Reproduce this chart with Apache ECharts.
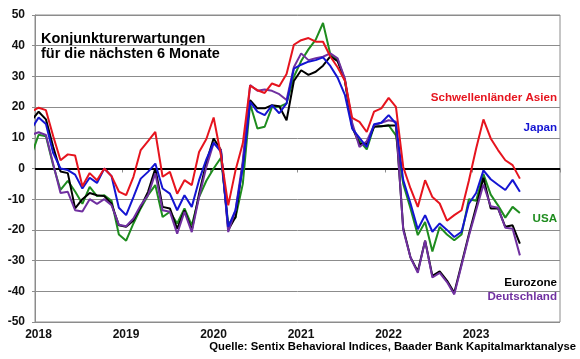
<!DOCTYPE html>
<html><head><meta charset="utf-8">
<script src="https://cdn.jsdelivr.net/npm/echarts@6/dist/echarts.min.js"></script>
<style>html,body{margin:0;padding:0;background:#fff}#c{width:580px;height:359px}</style>
</head><body><div id="c"></div>
<script>
// First value is December 2017 (clipped at the 2018 axis start), last is July 2023
const startYear = 2017, startMonth = 12;
const yearTicks = [2018, 2019, 2020, 2021, 2022, 2023, 2024];
const yTicks = [-50, -40, -30, -20, -10, 0, 10, 20, 30, 40, 50];

const asia = [18.6,
  19.8, 19.0, 10.5, 2.7, 4.6, 4.2, -5.8, -1.5, -3.8, 0.0, -2.5, -7.5,
  -8.7, -2.7, 6.0, 8.9, 11.9, -2.7, -1.1, -8.2, -3.8, -5.4, 5.4, 9.6,
  16.6, 4.3, -12.0, -0.6, 8.2, 27.0, 25.5, 24.6, 27.7, 26.8, 30.8, 40.3,
  41.8, 42.5, 41.3, 41.3, 36.5, 33.0, 28.6, 16.5, 15.2, 11.9, 18.5, 19.6,
  23.0, 20.1, 0.5, -6.5, -12.5, -3.8, -9.3, -11.4, -17.0, -15.2, -13.6, -4.0,
  6.5, 16.0, 9.8, 6.0, 2.7, 1.1, -3.3];
const japan = [12.9,
  16.6, 14.5, 5.0, 0.0, -0.5, -2.0, -6.5, -3.0, -4.7, 0.0, -2.5, -12.8,
  -15.2, -9.3, -3.3, -1.1, 1.6, -6.5, -8.2, -13.6, -8.7, -12.5, -3.8, 3.0,
  8.4, 5.4, -19.0, -13.6, 0.5, 21.7, 18.5, 17.4, 20.6, 18.0, 21.2, 32.5,
  33.8, 34.8, 35.3, 36.2, 33.4, 29.6, 24.0, 13.0, 10.0, 7.0, 14.4, 14.9,
  17.4, 14.6, -3.8, -11.4, -19.8, -15.2, -20.6, -17.9, -20.0, -22.3, -20.6, -11.5,
  -8.0, -0.6, -3.5, -5.3, -7.0, -3.7, -7.6];
const usa = [4.3,
  11.0, 10.5, 1.0, -7.0, -4.0, -7.5, -11.5, -6.0, -9.0, -8.7, -10.5, -21.5,
  -23.5, -17.9, -13.0, -8.7, -5.4, -15.8, -14.1, -17.9, -13.0, -18.5, -9.3, -4.0,
  0.0, 3.5, -18.0, -16.0, -5.0, 21.0, 13.0, 13.6, 20.0, 20.1, 21.2, 29.9,
  35.0, 38.8, 42.0, 47.4, 37.2, 35.6, 28.8, 13.6, 9.0, 6.2, 13.8, 13.8,
  14.1, 10.8, -5.0, -13.0, -21.7, -17.4, -27.0, -19.0, -21.5, -23.4, -21.5, -10.0,
  -10.5, -1.8, -8.5, -12.0, -16.0, -12.5, -14.5];
const eurozone = [15.6,
  18.5, 16.0, 7.0, -1.0, -1.5, -13.0, -10.0, -8.0, -8.7, -9.0, -11.5, -18.5,
  -19.0, -16.9, -12.5, -7.6, 0.0, -12.5, -13.0, -19.6, -13.6, -20.1, -8.2, 2.0,
  9.8, 6.0, -20.0, -15.8, 1.5, 22.3, 19.6, 19.6, 20.6, 20.3, 15.7, 28.5,
  32.0, 30.5, 31.5, 33.5, 36.5, 35.0, 28.8, 13.5, 8.0, 8.0, 13.6, 13.8,
  14.0, 14.0, -19.5, -29.0, -33.5, -23.5, -35.0, -33.5, -36.5, -40.5, -31.0, -21.5,
  -12.5, -3.0, -13.0, -13.0, -19.0, -18.5, -24.5];
const germany = [11.0,
  11.8, 10.9, 1.5, -8.0, -7.6, -13.6, -14.0, -10.0, -11.5, -10.0, -12.0, -18.3,
  -18.8, -16.3, -12.0, -8.7, -1.6, -13.6, -14.1, -21.2, -14.1, -20.7, -9.3, 0.5,
  8.2, 6.0, -20.7, -13.6, 2.5, 27.2, 25.3, 25.7, 25.3, 24.2, 22.3, 33.0,
  37.5, 35.3, 35.9, 36.4, 37.5, 35.9, 29.3, 14.9, 7.0, 8.9, 14.1, 14.9,
  15.7, 15.2, -20.0, -29.0, -34.0, -23.5, -35.5, -34.0, -37.0, -41.0, -31.5, -22.0,
  -13.6, -5.2, -12.3, -12.8, -19.3, -19.6, -28.3];

const seriesNames = ['USA', 'Eurozone', 'Deutschland', 'Japan', 'Schwellenländer Asien'];
const seriesValues = [usa, eurozone, germany, japan, asia];
const seriesColors = ['#1e8c1e', '#000000', '#7030a0', '#1414d2', '#e6141e'];

const titleLines = ['Konjunkturerwartungen', 'für die nächsten 6 Monate'];
const sourceText = 'Quelle: Sentix Behavioral Indices, Baader Bank Kapitalmarktanalyse';

// month categories -> position in the middle of each month on the year axis
const months = asia.map((_, i) => {
  const m = startMonth - 1 + i;
  return [startYear + Math.floor(m / 12), (m % 12) + 1];
});
const xPos = months.map(([y, m]) => y + (m - 0.5) / 12);
const toPairs = vals => vals.map((v, i) => [xPos[i], v]);

const FONT = '"Liberation Sans", Arial, sans-serif';
const chart = echarts.init(document.getElementById('c'), null, {renderer: 'canvas'});

const series = seriesNames.map((n, k) => ({
  name: n, type: 'line', data: toPairs(seriesValues[k]), symbol: 'none',
  clip: true, lineStyle: {color: seriesColors[k], width: 2}, itemStyle: {color: seriesColors[k]},
  z: 3 + k
}));
series[0].markLine = {
  silent: true, symbol: 'none', label: {show: false},
  lineStyle: {color: '#000', width: 2, type: 'solid'},
  data: [{yAxis: 0}], z: 2
};

const legendPos = [
  {text: 'Schwellenländer Asien', color: seriesColors[4], y: 98.5},
  {text: 'Japan', color: seriesColors[3], y: 129},
  {text: 'USA', color: seriesColors[0], y: 220},
  {text: 'Eurozone', color: seriesColors[1], y: 283.5},
  {text: 'Deutschland', color: seriesColors[2], y: 298}
];

const graphic = [];
titleLines.forEach((t, i) => graphic.push({
  type: 'text', left: 41, top: 31 + i * 15.7,
  style: {text: t, font: 'bold 14.5px ' + FONT, fill: '#000'}
}));
legendPos.forEach(l => graphic.push({
  type: 'text', right: 23, top: l.y - 7,
  style: {text: l.text, font: 'bold 11.6px ' + FONT, fill: l.color}
}));
graphic.push({
  type: 'text', right: 4, top: 341.5,
  style: {text: sourceText, font: 'bold 11.3px ' + FONT, fill: '#000'}
});

chart.setOption({
  animation: false,
  backgroundColor: '#fff',
  grid: {left: 35, right: 20, top: 15, bottom: 37, show: true, borderColor: '#8c8c8c', borderWidth: 1},
  xAxis: {
    type: 'value', min: yearTicks[0], max: yearTicks[yearTicks.length - 1], interval: 1,
    axisLine: {show: true, lineStyle: {color: '#8c8c8c', width: 1}},
    axisTick: {show: true, length: 4, lineStyle: {color: '#8c8c8c'}},
    splitLine: {show: false},
    axisLabel: {
      color: '#111', fontFamily: FONT, fontWeight: 'bold', fontSize: 12, margin: 7,
      padding: [0, 0, 0, 7],
      formatter: v => yearTicks.includes(Math.round(v)) && Math.round(v) < 2024 ? String(Math.round(v)) : ''
    }
  },
  yAxis: {
    type: 'value', min: yTicks[0], max: yTicks[yTicks.length - 1], interval: 10,
    axisLine: {show: true, lineStyle: {color: '#8c8c8c', width: 1}},
    axisTick: {show: true, length: 3, lineStyle: {color: '#8c8c8c'}},
    splitLine: {show: true, lineStyle: {color: '#8c8c8c', width: 1}},
    axisLabel: {color: '#111', fontFamily: FONT, fontWeight: 'bold', fontSize: 12, margin: 10}
  },
  series: series,
  graphic: graphic
});
</script></body></html>
